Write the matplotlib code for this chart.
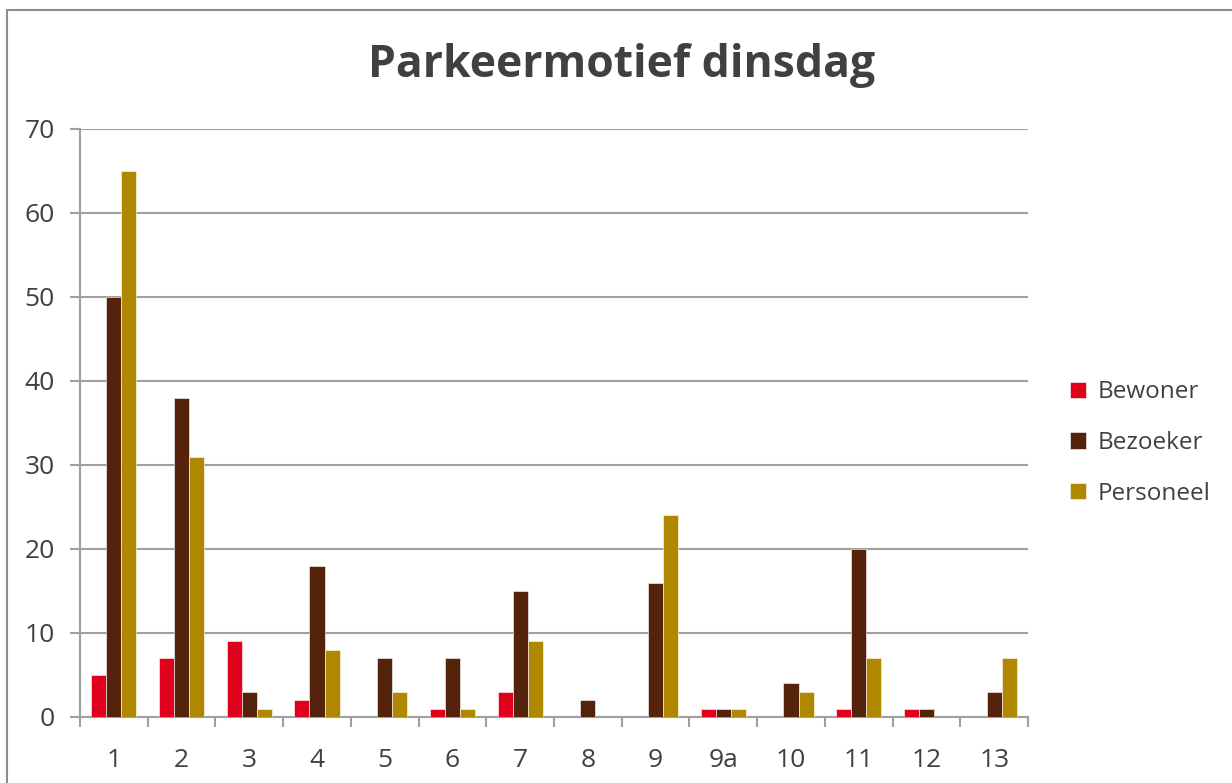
import numpy as np
import matplotlib.pyplot as plt
from matplotlib.patches import Rectangle

# Data
locaties = ['1', '2', '3', '4', '5', '6', '7', '8', '9', '9a', '10', '11', '12', '13']
bewoner = [5, 7, 9, 2, 0, 1, 3, 0, 0, 1, 0, 1, 1, 0]
bezoeker = [50, 38, 3, 18, 7, 7, 15, 2, 16, 1, 4, 20, 1, 3]
personeel = [65, 31, 1, 8, 3, 1, 9, 0, 24, 1, 3, 7, 0, 7]

series = [('Bewoner', bewoner, '#E0001B'),
          ('Bezoeker', bezoeker, '#55230C'),
          ('Personeel', personeel, '#B08800')]

plt.rcParams['font.family'] = ['Open Sans', 'DejaVu Sans']
tekst = '#404040'
grijs = '#A0A0A0'

fig = plt.figure(figsize=(12.32, 7.83), dpi=100)
# kader rond de grafiek (rechts en onder valt buiten beeld)
fig.patches.append(Rectangle((7 / 1232, -0.2), 1.2, 1.2 - 10 / 783, transform=fig.transFigure,
                             fill=False, edgecolor='#8C8C8C', linewidth=1.5))

ax = fig.add_axes([80 / 1232, 1 - 717 / 783, (1028 - 80) / 1232, (717 - 129) / 783])

x = np.arange(len(locaties))
w = 0.222
for i, (naam, vals, kleur) in enumerate(series):
    ax.bar(x + (i - 1) * w, vals, width=w, color=kleur, label=naam,
           edgecolor='white', linewidth=0.4, zorder=3)

ax.set_xlim(-0.5, len(locaties) - 0.5)
ax.set_ylim(0, 70)
ax.set_yticks(range(0, 71, 10))
ax.set_xticks(x)
ax.set_xticklabels(locaties)
ax.set_xticks(np.arange(-0.5, len(locaties), 1), minor=True)

ax.grid(axis='y', color=grijs, linewidth=1.5, zorder=0)
for s in ['top', 'right']:
    ax.spines[s].set_visible(False)
for s in ['left', 'bottom']:
    ax.spines[s].set_color(grijs)
    ax.spines[s].set_linewidth(1.5)

ax.tick_params(axis='x', which='major', length=0, pad=22, labelsize=19, labelcolor=tekst)
ax.tick_params(axis='x', which='minor', length=7.2, width=1.5, color=grijs)
ax.tick_params(axis='y', length=7.2, width=1.5, color=grijs, pad=11, labelsize=19, labelcolor=tekst)

fig.text(622 / 1232, 1 - 66 / 783, 'Parkeermotief dinsdag', ha='center', va='center',
         fontsize=32, fontweight='bold', color=tekst)

ax.legend(loc='center left', bbox_to_anchor=(1.032, (717 - 443) / 588), frameon=False, fontsize=17.5,
          labelcolor=tekst, handlelength=0.65, handleheight=0.65, handletextpad=0.45,
          labelspacing=1.1, borderpad=0)

fig.savefig('out.png', dpi=100)
